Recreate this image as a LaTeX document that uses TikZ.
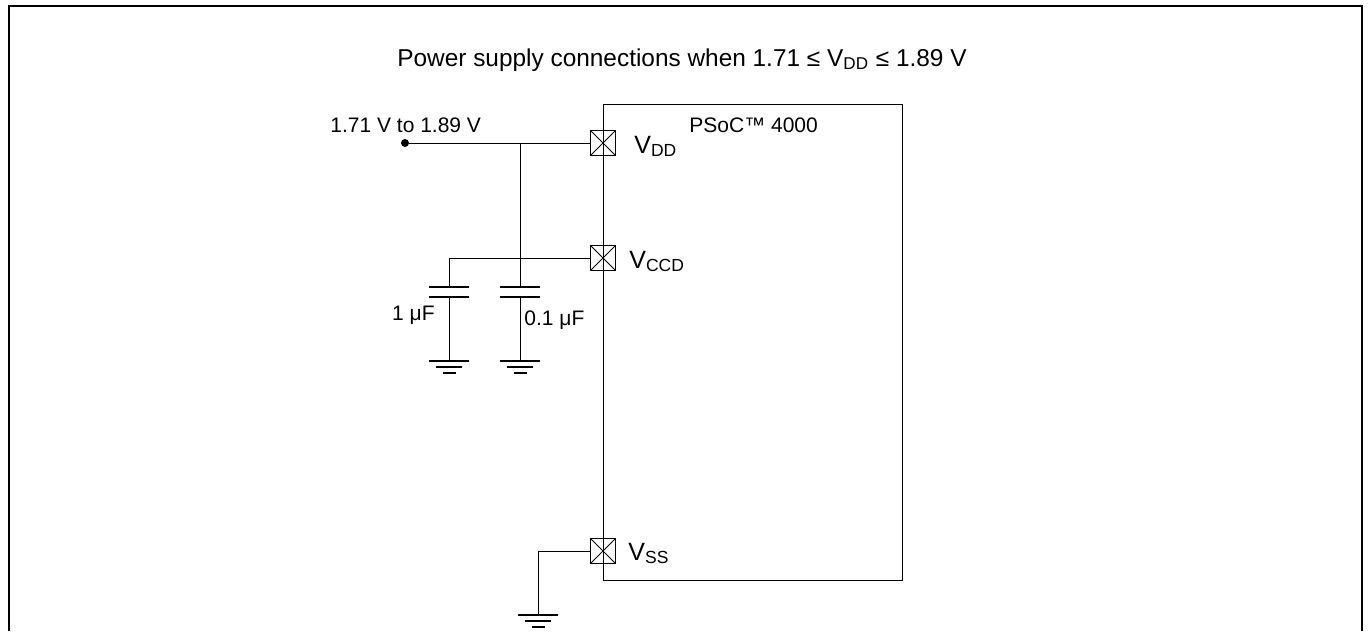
\documentclass[tikz,border=0pt]{standalone}
\usepackage{fontspec}
\setmainfont{Liberation Sans}
\usetikzlibrary{
    calc,
    positioning,
}

\begin{document}
\begin{tikzpicture}[
    x=0.5pt,y=-0.5pt,
    wire/.style={line width=0.5pt},
    pin/.style={draw,line width=0.5pt,minimum size=12.5pt,inner sep=0pt,
        path picture={\draw[line width=0.4pt] (path picture bounding box.south west) -- (path picture bounding box.north east)
            (path picture bounding box.north west) -- (path picture bounding box.south east);}},
    pinlabel/.style={anchor=base west,inner sep=0pt,font=\fontsize{12.5}{14}\selectfont},
    lbl/.style={anchor=base west,inner sep=0pt,font=\fontsize{10.5}{12}\selectfont},
    plate/.style={line width=0.6pt}
    ]
    \useasboundingbox (0,0) rectangle (1368,631);

    % outer frame, open at the bottom
    \coordinate (framesw) at (9,631);
    \coordinate (framenw) at (9,6);
    \coordinate (framene) at (1362,6);
    \coordinate (framese) at (1362,631);
    \draw[line width=1pt] (framesw) -- (framenw) -- (framene) -- (framese);

    \node[font=\fontsize{12.2}{14}\selectfont] (title) at (682,60) {Power supply connections when 1.71 ≤ V\textsubscript{DD} ≤ 1.89 V};

    % chip
    \coordinate (chipnw) at (603,104);
    \coordinate (chipse) at (902,580);
    \draw[wire] (chipnw) rectangle (chipse);
    \node[lbl] (chipname) at (689,133) {PSoC™ 4000};

    % pins
    \node[pin] (vdd) at (603,143) {};
    \node[pin] (vccd) at (603,258) {};
    \node[pin] (vss) at (603,551) {};
    \node[pinlabel] (vddlbl) at (634,153) {V\textsubscript{DD}};
    \node[pinlabel] (vccdlbl) at (629,268) {V\textsubscript{CCD}};
    \node[pinlabel] (vsslbl) at (628,560) {V\textsubscript{SS}};

    % supply input
    \node[circle,fill,inner sep=0pt,minimum size=4pt] (supply) at (405,143) {};
    \node[lbl] (supplylbl) at (330,132) {1.71 V to 1.89 V};
    \coordinate (junction) at (520,143);
    \draw[wire] (supply) -- (vdd.west);

    % capacitors
    \coordinate (c1top) at (449,287);
    \coordinate (c1bot) at (449,297);
    \coordinate (c2top) at (520,287);
    \coordinate (c2bot) at (520,297);
    \coordinate (gnd1) at (449,361);
    \coordinate (gnd2) at (520,361);
    \coordinate (gnd3) at (538,615);

    \draw[wire] (vccd.west) -| (c1top);
    \draw[wire] (junction) -- (c2top);
    \draw[wire] (c1bot) -- (gnd1);
    \draw[wire] (c2bot) -- (gnd2);
    \draw[wire] (vss.west) -| (gnd3);

    \foreach \c in {c1top,c1bot,c2top,c2bot}
        \draw[plate] ([xshift=-10pt]\c) -- ([xshift=10pt]\c);

    \foreach \g in {gnd1,gnd2,gnd3} {
        \draw[plate] ([xshift=-10pt]\g) -- ([xshift=10pt]\g);
        \draw[plate] ([xshift=-6.5pt,yshift=-3pt]\g) -- ([xshift=6.5pt,yshift=-3pt]\g);
        \draw[plate] ([xshift=-3.25pt,yshift=-6pt]\g) -- ([xshift=3.25pt,yshift=-6pt]\g);
    }

    \node[lbl,anchor=base east] (c1lbl) at (435,320) {1 μF};
    \node[lbl] (c2lbl) at (524,325) {0.1 μF};
\end{tikzpicture}
\end{document}
